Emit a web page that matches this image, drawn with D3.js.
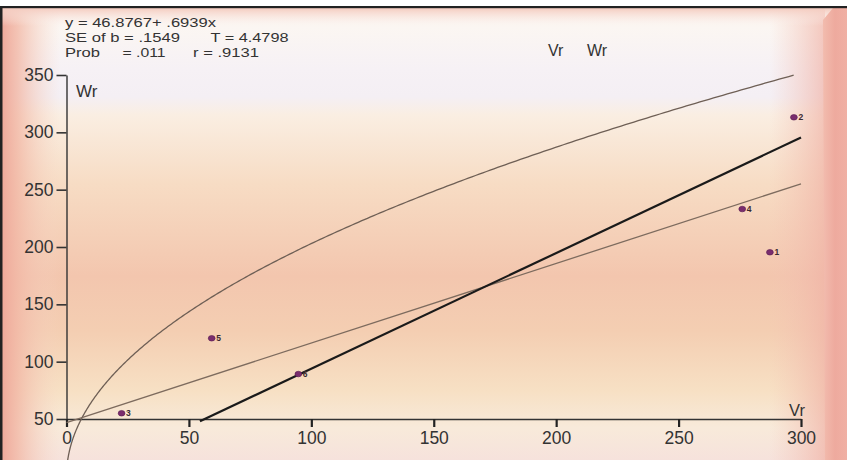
<!DOCTYPE html>
<html><head><meta charset="utf-8">
<script src="https://cdn.jsdelivr.net/npm/d3@7"></script>
<style>
html,body{margin:0;padding:0;background:#fff;}
svg{display:block;font-family:"Liberation Sans",Arial,sans-serif;}
</style></head>
<body>
<svg id="chart" width="847" height="460"></svg>
<script>
// ---- data ----
const pointLabels = ["1","2","3","4","5","6"];
const vrValues = [287.3, 297.1, 22.5, 276.0, 59.3, 94.7];
const wrValues = [195.4, 313.1, 55.0, 233.1, 120.4, 89.2];
const xTicks = [0, 50, 100, 150, 200, 250, 300];
const yTicks = [50, 100, 150, 200, 250, 300, 350];
const regIntercept = 46.8767, regSlope = 0.6939;
const regRange = [0, 300];
const unitLineVr = [54.5, 300];
const unitLineWr = [48, 295.5];
const parabolaK = 412;            // Wr^2 = K * Vr
const parabolaRange = [0, 297];
const statTexts = ["y = 46.8767+ .6939x", "SE of b = .1549", "T = 4.4798", "Prob", "= .011", "r = .9131"];
const statRows = [0, 1, 1, 2, 2, 2];
const statX = [65, 65, 210.5, 65, 122.5, 193];
const statWidths = [151, 115, 78, 35, 43, 66];

const svg = d3.select("#chart");
const W = 847, H = 460;
const defs = svg.append("defs");

// background gradients
const vg = defs.append("linearGradient").attr("id","vg").attr("x1",0).attr("y1",0).attr("x2",0).attr("y2",1);
[[0,"#fbefe8"],[0.06,"#fbf6f2"],[0.15,"#f6f1f5"],[0.21,"#f4eff4"],[0.25,"#faeee2"],[0.4,"#f7dcc4"],[0.6,"#f3c6ae"],[0.72,"#f4ceb2"],[0.85,"#f7e0c4"],[0.93,"#f8eada"],[1,"#f6e2dc"]]
  .forEach(([o,c])=>vg.append("stop").attr("offset",o).attr("stop-color",c));
const lg = defs.append("linearGradient").attr("id","lg").attr("x1",0).attr("y1",0).attr("x2",1).attr("y2",0);
[[0,"#eea698",1],[0.3,"#f2b8a6",0.8],[1,"#f6d6c6",0]].forEach(([o,c,a])=>lg.append("stop").attr("offset",o).attr("stop-color",c).attr("stop-opacity",a));
const rg = defs.append("linearGradient").attr("id","rg").attr("x1",0).attr("y1",0).attr("x2",1).attr("y2",0);
[[0,"#f4c4b6",0],[1,"#f0b2a6",0.7]].forEach(([o,c,a])=>rg.append("stop").attr("offset",o).attr("stop-color",c).attr("stop-opacity",a));
const rb = defs.append("linearGradient").attr("id","rb").attr("x1",0).attr("y1",0).attr("x2",1).attr("y2",0);
[[0,"#f2bcae"],[0.5,"#eeaa9e"],[1,"#f0b0a4"]].forEach(([o,c])=>rb.append("stop").attr("offset",o).attr("stop-color",c));
const tg = defs.append("linearGradient").attr("id","tg").attr("x1",0).attr("y1",0).attr("x2",0).attr("y2",1);
[[0,"#f4cbbf",1],[1,"#fbf2ee",0]].forEach(([o,c,a])=>tg.append("stop").attr("offset",o).attr("stop-color",c).attr("stop-opacity",a));

svg.append("rect").attr("x",0).attr("y",0).attr("width",W).attr("height",H).attr("fill","url(#vg)");
svg.append("rect").attr("x",0).attr("y",0).attr("width",60).attr("height",H).attr("fill","url(#lg)");
svg.append("rect").attr("x",770).attr("y",0).attr("width",55).attr("height",H).attr("fill","url(#rg)");
svg.append("rect").attr("x",0).attr("y",8).attr("width",847).attr("height",18).attr("fill","url(#tg)");
svg.append("polygon").attr("points","823,20 833,8 847,8 847,460 825,460").attr("fill","url(#rb)");
svg.append("rect").attr("x",0).attr("y",0).attr("width",W).attr("height",6).attr("fill","#fff");
svg.append("rect").attr("x",0).attr("y",6).attr("width",W).attr("height",2.2).attr("fill","#222");
svg.append("rect").attr("x",0).attr("y",6).attr("width",2.5).attr("height",H).attr("fill","#222");

// scales
const x = d3.scaleLinear().domain([0,300]).range([66.5,801]);
const y = d3.scaleLinear().domain([50,350]).range([419,75]);

// axes
const yAxis = svg.append("g").attr("transform",`translate(${x(0)},0)`)
  .call(d3.axisLeft(y).tickValues(yTicks).tickSize(10).tickPadding(3).tickSizeOuter(0));
yAxis.select(".domain").attr("stroke","#333").attr("stroke-width",1.4);
yAxis.selectAll(".tick line").attr("stroke","#333").attr("stroke-width",1.6);
yAxis.selectAll(".tick text").attr("fill","#333").attr("font-size",17.5).attr("font-family","Liberation Sans, Arial, sans-serif");

const xAxis = svg.append("g").attr("transform",`translate(0,${y(50)})`)
  .call(d3.axisBottom(x).tickValues(xTicks).tickSize(8).tickPadding(5).tickSizeOuter(0));
xAxis.select(".domain").attr("stroke","#333").attr("stroke-width",1.4);
xAxis.selectAll(".tick line").attr("stroke","#222").attr("stroke-width",2.2);
xAxis.selectAll(".tick text").attr("fill","#333").attr("font-size",17.5).attr("font-family","Liberation Sans, Arial, sans-serif");

// axis titles
svg.append("text").attr("x",76).attr("y",97).attr("font-size",17).attr("fill","#333").text("Wr");
svg.append("text").attr("x",789).attr("y",416).attr("font-size",16.5).attr("fill","#333").text("Vr");
svg.append("text").attr("x",548).attr("y",56).attr("font-size",16).attr("fill","#333").text("Vr");
svg.append("text").attr("x",587).attr("y",56).attr("font-size",16).attr("fill","#333").text("Wr");

// stats text
statTexts.forEach((t,i)=>{
  svg.append("text").attr("x",statX[i]).attr("y",27+statRows[i]*14.75).attr("font-size",13)
    .attr("fill","#333").attr("textLength",statWidths[i]).attr("lengthAdjust","spacingAndGlyphs").text(t);
});

// lines
const clipH = svg.append("g");
const parabolaPts = d3.range(0, 301).map(i => parabolaRange[0] + (parabolaRange[1]-parabolaRange[0]) * Math.pow(i/300, 2));
const pLine = d3.line().x(d=>x(d)).y(d=>y(Math.sqrt(parabolaK*d)));
clipH.append("path").attr("d",pLine(parabolaPts)).attr("fill","none").attr("stroke","#6e5f55").attr("stroke-width",1.3);

const seg = d3.line().x(d=>x(d[0])).y(d=>y(d[1]));
clipH.append("path").attr("d",seg(regRange.map(v=>[v, regIntercept+regSlope*v])))
  .attr("fill","none").attr("stroke","#7d6b5e").attr("stroke-width",1.3);
clipH.append("path").attr("d",seg(unitLineVr.map((v,i)=>[v, unitLineWr[i]])))
  .attr("fill","none").attr("stroke","#1a1a1a").attr("stroke-width",2.2);

// points
const pts = svg.append("g");
vrValues.forEach((v,i)=>{
  pts.append("ellipse").attr("cx",x(v)).attr("cy",y(wrValues[i])).attr("rx",3.4).attr("ry",2.8)
    .attr("fill","#7a2d6e").attr("stroke","#5a1d50").attr("stroke-width",0.6);
  pts.append("text").attr("x",x(v)+4.5).attr("y",y(wrValues[i])+3).attr("font-size",8.5).attr("font-weight","bold")
    .attr("fill","#3a2a30").text(pointLabels[i]);
});
</script>
</body></html>
